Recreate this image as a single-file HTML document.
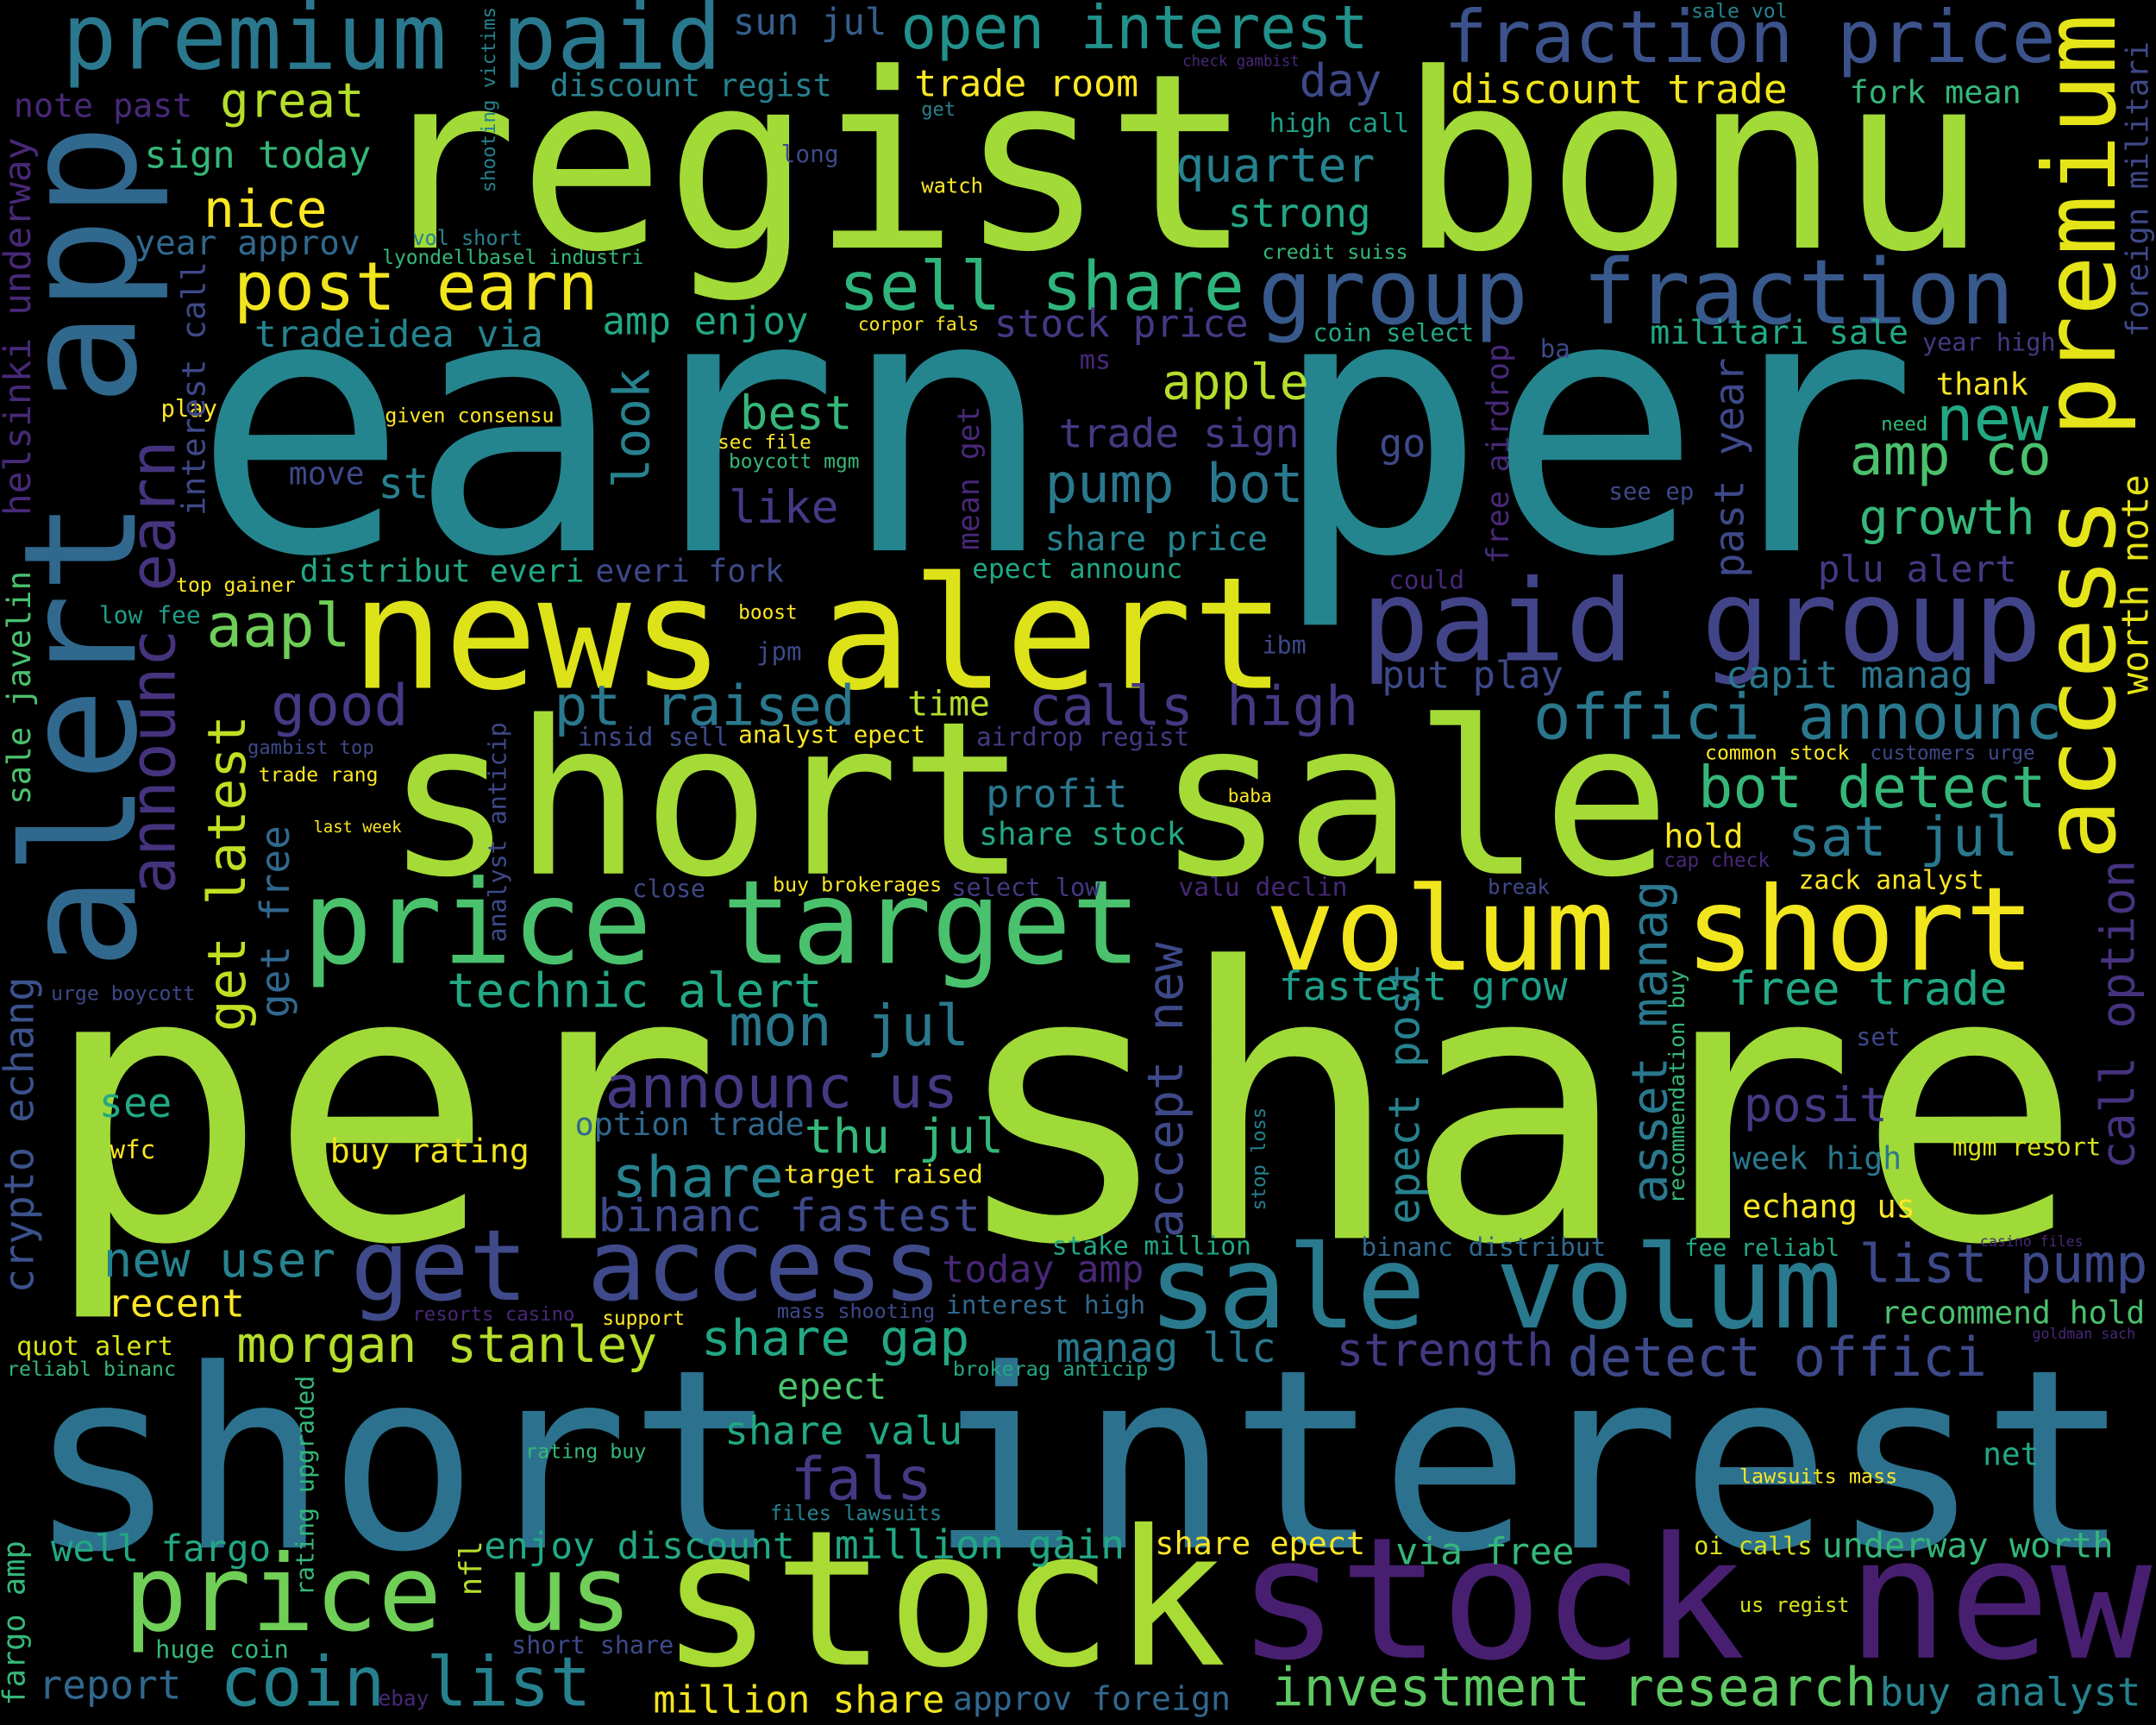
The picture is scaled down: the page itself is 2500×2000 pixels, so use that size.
<!DOCTYPE html>
<html><head><meta charset="utf-8"><style>
html,body{margin:0;padding:0;background:#000;width:2500px;height:2000px;overflow:hidden}
svg{display:block}
text{font-family:"DejaVu Sans Mono","Liberation Mono",monospace}
</style></head><body>
<svg id="cloud" width="2500" height="2000" viewBox="0 0 1568 1254" preserveAspectRatio="none" xmlns="http://www.w3.org/2000/svg">
<rect width="1568" height="1254" fill="#000"/>
<g id="words"></g>
</svg>
<script>
// horizontal words: [text, leftX, rightX, baselineY, color]
const hWords = [
["regist bonu",270,1445,180,"#a2da37"],
["earn per",140,1395,400,"#25858e"],
["per share",30,1515,900,"#a0da39"],
["short interest",20,1550,1125,"#2c728e"],
["short sale",280,1215,635,"#a5db36"],
["stock",480,892,1210,"#a8db34"],
["stock new",900,1565,1205,"#481f70"],
["news alert",255,935,500,"#dde318"],
["price target",220,830,700,"#4ac16d"],
["volum short",920,1480,705,"#f1e51d"],
["sale volum",835,1340,965,"#297a8e"],
["get access",255,685,945,"#3f4a8a"],
["paid group",990,1485,480,"#414487"],
["group fraction",915,1465,235,"#38598c"],
["premium paid",45,525,50,"#2a788e"],
["fraction price",1050,1495,45,"#3b528b"],
["price us",90,460,1185,"#70cf57"],
["coin list",160,430,1240,"#26818e"],
["investment research",925,1365,1240,"#5ec962"],
["sun jul",533,645,25,"#355f8d"],
["open interest",655,995,35,"#21918c"],
["sale vol",1230,1300,13,"#26828e"],
["check gambist",860,945,48,"#482878"],
["note past",10,140,85,"#482878"],
["great",160,265,85,"#b5de2b"],
["discount regist",400,605,70,"#26828e"],
["trade room",665,828,70,"#fde725"],
["day",945,1005,70,"#3e4989"],
["discount trade",1055,1300,75,"#f1e51d"],
["fork mean",1345,1470,75,"#35b779"],
["get",670,695,84,"#26828e"],
["sign today",105,270,122,"#35b779"],
["long",568,610,118,"#3e4989"],
["high call",923,1025,96,"#1f9e89"],
["quarter",855,1000,132,"#26828e"],
["watch",670,715,140,"#fde725"],
["nice",148,238,165,"#fde725"],
["strong",893,997,165,"#22a884"],
["year approv",98,262,185,"#31688e"],
["vol short",300,380,178,"#26828e"],
["lyondellbasel industri",278,468,192,"#35b779"],
["credit suiss",918,1024,188,"#35b779"],
["post earn",170,435,225,"#f1e51d"],
["sell share",610,905,225,"#2fb47c"],
["tradeidea via",185,395,252,"#26828e"],
["amp enjoy",438,588,243,"#22a884"],
["corpor fals",624,712,240,"#fde725"],
["stock price",723,908,245,"#443983"],
["coin select",955,1072,248,"#22a884"],
["militari sale",1200,1388,250,"#22a884"],
["year high",1398,1495,255,"#443983"],
["ms",785,808,268,"#482878"],
["ba",1120,1142,260,"#3e4989"],
["thank",1408,1475,287,"#fde725"],
["play",117,158,303,"#fde725"],
["given consensu",280,403,307,"#fde725"],
["best",538,620,312,"#35b779"],
["apple",845,952,290,"#b5de2b"],
["trade sign",770,945,325,"#443983"],
["go",1003,1037,332,"#3e4989"],
["need",1368,1402,313,"#35b779"],
["new",1408,1490,320,"#22a884"],
["sec file",522,590,326,"#fde725"],
["boycott mgm",530,625,340,"#35b779"],
["move",210,265,352,"#3e4989"],
["st",275,312,362,"#26828e"],
["pump bot",760,948,365,"#2a788e"],
["amp co",1345,1492,345,"#4ac16d"],
["see ep",1170,1232,363,"#3e4989"],
["like",530,610,380,"#443983"],
["growth",1352,1480,388,"#35b779"],
["share price",760,922,400,"#26828e"],
["top gainer",128,215,430,"#fde725"],
["distribut everi",218,425,423,"#22a884"],
["everi fork",433,570,423,"#3e4989"],
["epect announc",707,860,420,"#22a884"],
["could",1010,1065,428,"#482878"],
["plu alert",1322,1467,423,"#443983"],
["low fee",72,146,453,"#1f9e89"],
["boost",537,580,450,"#fde725"],
["aapl",150,255,470,"#6ece58"],
["jpm",550,583,480,"#3e4989"],
["ibm",918,950,475,"#3e4989"],
["put play",1005,1137,500,"#3e4989"],
["capit manag",1255,1435,500,"#2a788e"],
["good",197,297,527,"#443983"],
["pt raised",403,622,527,"#2a788e"],
["time",660,720,520,"#b5de2b"],
["calls high",748,988,527,"#443983"],
["offici announc",1115,1500,537,"#2a788e"],
["insid sell",420,530,542,"#3e4989"],
["analyst epect",537,673,540,"#fde725"],
["airdrop regist",710,865,542,"#443983"],
["gambist top",180,272,548,"#3e4989"],
["common stock",1240,1345,552,"#fde725"],
["customers urge",1360,1480,552,"#3e4989"],
["trade rang",188,275,568,"#fde725"],
["profit",717,820,587,"#2a788e"],
["bot detect",1235,1488,587,"#35b779"],
["baba",893,925,583,"#fde725"],
["last week",228,292,605,"#fde725"],
["share stock",712,862,614,"#22a884"],
["hold",1210,1268,616,"#fde725"],
["sat jul",1300,1468,622,"#2a788e"],
["cap check",1210,1287,630,"#482878"],
["close",460,513,652,"#3e4989"],
["buy brokerages",562,685,648,"#fde725"],
["select low",692,800,651,"#443983"],
["valu declin",857,980,651,"#482878"],
["break",1082,1127,650,"#3e4989"],
["zack analyst",1308,1443,646,"#fde725"],
["technic alert",325,598,732,"#22a884"],
["fastest grow",930,1140,727,"#1f9e89"],
["free trade",1257,1460,730,"#22a884"],
["urge boycott",37,142,727,"#3e4989"],
["mon jul",530,705,760,"#2a788e"],
["set",1350,1382,760,"#3e4989"],
["announc us",440,697,805,"#443983"],
["see",72,125,812,"#22a884"],
["posit",1268,1373,815,"#443983"],
["option trade",418,585,825,"#31688e"],
["thu jul",585,730,838,"#35b779"],
["wfc",80,113,842,"#fde725"],
["buy rating",240,385,845,"#f1e51d"],
["mgm resort",1420,1528,840,"#d8e219"],
["week high",1260,1383,850,"#2a788e"],
["share",445,570,870,"#26828e"],
["target raised",570,715,860,"#fde725"],
["echang us",1267,1393,885,"#fde725"],
["binanc fastest",435,713,895,"#3e4989"],
["stake million",765,910,912,"#22a884"],
["binanc distribut",990,1168,913,"#31688e"],
["fee reliabl",1225,1338,913,"#22a884"],
["casino files",1440,1515,906,"#482878"],
["new user",75,244,928,"#26828e"],
["today amp",685,832,932,"#482878"],
["list pump",1352,1562,932,"#3e4989"],
["recent",78,178,957,"#fde725"],
["interest high",688,833,955,"#31688e"],
["resorts casino",300,418,960,"#482878"],
["support",438,498,963,"#fde725"],
["mass shooting",565,680,958,"#3e4989"],
["recommend hold",1368,1560,962,"#4ac16d"],
["goldman sach",1478,1553,973,"#482878"],
["quot alert",12,126,985,"#d8e219"],
["morgan stanley",172,478,990,"#b5de2b"],
["share gap",510,705,985,"#22a884"],
["manag llc",768,928,990,"#2a788e"],
["strength",972,1130,993,"#443983"],
["detect offici",1140,1445,1000,"#3e4989"],
["reliabl binanc",5,128,1000,"#35b779"],
["brokerag anticip",693,835,1000,"#22a884"],
["epect",565,645,1017,"#4ac16d"],
["share valu",527,700,1050,"#22a884"],
["rating buy",382,470,1060,"#35b779"],
["net",1442,1483,1065,"#22a884"],
["fals",575,678,1090,"#443983"],
["lawsuits mass",1265,1380,1078,"#fde725"],
["files lawsuits",560,685,1105,"#26828e"],
["well fargo",37,197,1135,"#22a884"],
["enjoy discount",352,578,1133,"#22a884"],
["million gain",607,818,1133,"#22a884"],
["share epect",840,993,1130,"#fde725"],
["via free",1015,1145,1137,"#35b779"],
["oi calls",1232,1318,1130,"#d8e219"],
["underway worth",1325,1537,1132,"#35b779"],
["us regist",1265,1345,1172,"#d8e219"],
["huge coin",113,210,1205,"#35b779"],
["short share",372,490,1202,"#3e4989"],
["report",28,132,1235,"#31688e"],
["ebay",275,312,1240,"#482878"],
["million share",475,687,1245,"#f1e51d"],
["approv foreign",693,895,1243,"#31688e"],
["buy analyst",1367,1557,1240,"#26828e"]
];
// vertical words (read bottom-to-top): [text, baselineX, bottomY, topY, color]
const vWords = [
["alert app",98,705,90,"#31688e"],
["access premium",1538,625,10,"#e5e419"],
["announc earn",127,650,320,"#46337e"],
["get latest",178,750,520,"#c2df23"],
["get free",210,740,600,"#31688e"],
["helsinki underway",22,375,100,"#482878"],
["sale javelin",22,585,415,"#4ac16d"],
["crypto echang",24,940,710,"#3b528b"],
["fargo amp",18,1240,1120,"#35b779"],
["interest call",149,375,190,"#3e4989"],
["look",472,355,268,"#26828e"],
["analyst anticip",368,685,525,"#3e4989"],
["shooting victims",360,140,5,"#26828e"],
["rating upgraded",228,1160,1000,"#35b779"],
["nfl",350,1160,1120,"#b5de2b"],
["mean get",712,400,295,"#482878"],
["accept new",860,900,685,"#3e4989"],
["epect post",1032,890,700,"#26828e"],
["asset manag",1212,875,640,"#2a788e"],
["recommendation buy",1225,875,705,"#35b779"],
["stop loss",920,880,805,"#26828e"],
["free airdrop",1097,410,250,"#482878"],
["past year",1268,420,260,"#3e4989"],
["worth note",1562,505,345,"#e5e419"],
["foreign militari",1562,245,30,"#3e4989"],
["call option",1552,850,625,"#46337e"]
];
const NS = "http://www.w3.org/2000/svg";
const g = document.getElementById("words");
const CW = 0.602;
function slug(s){return s.replace(/\s+/g,"-");}
hWords.forEach(function(w){
  const t = document.createElementNS(NS,"text");
  const len = w[2]-w[1];
  const fs = len/(w[0].length*CW);
  t.setAttribute("x", w[1]);
  t.setAttribute("y", w[3]);
  t.setAttribute("font-size", fs.toFixed(2));
  t.setAttribute("fill", w[4]);
  t.setAttribute("textLength", len);
  t.setAttribute("lengthAdjust", "spacingAndGlyphs");
  
  
  t.textContent = w[0];
  g.appendChild(t);
});
vWords.forEach(function(w){
  const t = document.createElementNS(NS,"text");
  const len = w[2]-w[3];
  const fs = len/(w[0].length*CW);
  t.setAttribute("x", w[1]);
  t.setAttribute("y", w[2]);
  t.setAttribute("transform", "rotate(-90 " + w[1] + " " + w[2] + ") translate(0 0)");
  t.setAttribute("font-size", fs.toFixed(2));
  t.setAttribute("fill", w[4]);
  t.setAttribute("textLength", len);
  t.setAttribute("lengthAdjust", "spacingAndGlyphs");
  
  
  t.textContent = w[0];
  g.appendChild(t);
});
</script>
</body></html>
